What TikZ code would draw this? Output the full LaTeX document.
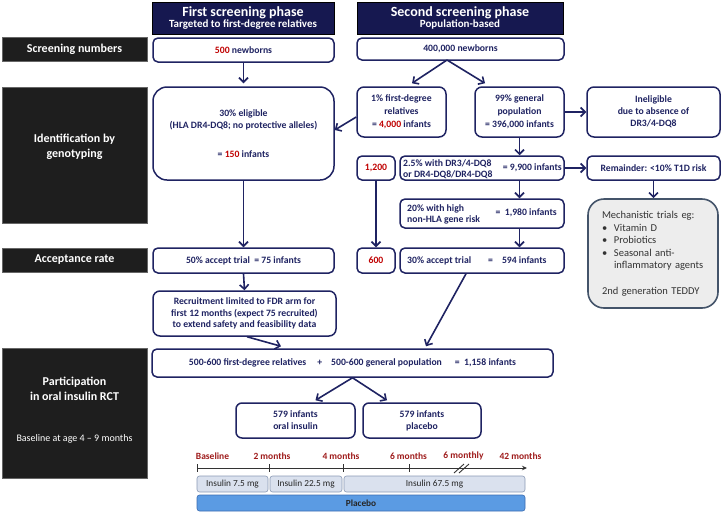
\documentclass[tikz,border=0pt]{standalone}
\usepackage{fontspec}
\setmainfont{Carlito}
\usetikzlibrary{arrows.meta,calc}
\definecolor{navy}{HTML}{1F2362}
\definecolor{hdr}{HTML}{161850}
\definecolor{redt}{HTML}{C00000}
\definecolor{blk}{HTML}{1E1E1E}
\definecolor{mechfill}{HTML}{EDEDED}
\definecolor{mechdraw}{HTML}{44546A}
\definecolor{mechtext}{HTML}{333333}
\definecolor{insfill}{HTML}{DAE1EE}
\definecolor{insdraw}{HTML}{8A9AB5}
\definecolor{plfill}{HTML}{5B9BE3}
\definecolor{pldraw}{HTML}{3B6CB0}
\definecolor{tlred}{HTML}{9E1B1B}
\definecolor{tlgray}{HTML}{333333}
\newcommand\bfnt{\fontsize{9.7}{12}\selectfont\bfseries}
\newcommand\rd[1]{\textcolor{redt}{#1}}
\begin{document}
\begin{tikzpicture}[x=1pt,y=-1pt,
  box/.style={draw=navy,line width=1.5pt,rounded corners=5pt,fill=white,inner sep=0pt,align=center,text=navy,font=\bfnt},
  btext/.style={inner sep=0pt,text=navy,font=\bfnt},
  hdrbox/.style={fill=hdr,draw=black,line width=0.6pt,inner sep=0pt,align=center,text=white,font=\bfseries},
  lbl/.style={fill=blk,draw=black!60,line width=0.4pt,inner sep=0pt,align=center,text=white,font=\fontsize{12}{14.5}\selectfont\bfseries},
  ltext/.style={inner sep=0pt,align=center,text=white},
  arr/.style={draw=navy,line width=1.6pt,-{Straight Barb[length=4.5pt,width=9pt,line width=1.6pt]}},
  insbox/.style={draw=insdraw,fill=insfill,line width=0.6pt,rounded corners=2.5pt,inner sep=0pt,text=black!85,font=\fontsize{9.3}{11}\selectfont},
  tllab/.style={inner sep=0pt,text=tlred,font=\fontsize{9.5}{11}\selectfont\bfseries},
  tl/.style={draw=tlgray,line width=0.9pt}
]
\useasboundingbox (0,0) rectangle (723,515);

% headers
\node[hdrbox,minimum width=182,minimum height=32] (h1) at (243,18)
  {{\fontsize{14}{16}\selectfont First screening phase}\\[-1pt]{\fontsize{11}{13}\selectfont Targeted to first-degree relatives}};
\node[hdrbox,minimum width=206,minimum height=32] (h2) at (460,18)
  {{\fontsize{14}{16}\selectfont Second screening phase}\\[-1pt]{\fontsize{11}{13}\selectfont Population-based}};

% left labels
\node[lbl,minimum width=145,minimum height=24] (l1) at (74.5,49) {Screening numbers};
\node[lbl,minimum width=145,minimum height=136] (l2) at (74.5,155) {};
\node[ltext,font=\fontsize{12}{14.5}\selectfont\bfseries] (l2t) at (74.5,147) {Identification by\\genotyping};
\node[lbl,minimum width=145,minimum height=24] (l3) at (74.5,260) {Acceptance rate};
\node[lbl,minimum width=145,minimum height=130] (l4) at (74.5,413) {};
\node[ltext,font=\fontsize{12}{14.5}\selectfont\bfseries] (l4t) at (74.5,389) {Participation\\in oral insulin RCT};
\node[ltext,font=\fontsize{10}{12}\selectfont] (l4b) at (74.5,439) {Baseline at age 4 -- 9 months};

% row 1
\node[box,minimum width=181,minimum height=24] (n500) at (243.5,50) {\rd{500} newborns};
\node[box,minimum width=207,minimum height=22] (n400) at (460.5,49) {400,000 newborns};

% row 2
\node[box,rounded corners=14pt,minimum width=181,minimum height=93] (elig) at (243.5,133.5)
  {30\% eligible\\(HLA DR4-DQ8; no protective alleles)\\[17pt]= \rd{150} infants};
\node[box,rounded corners=7pt,minimum width=89,minimum height=50,font=\fontsize{9.7}{13}\selectfont\bfseries] (fdr) at (401.5,112)
  {1\% first-degree\\relatives\\= \rd{4,000} infants};
\node[box,rounded corners=7pt,minimum width=89,minimum height=50,font=\fontsize{9.7}{13}\selectfont\bfseries] (gp) at (519.5,112)
  {99\% general\\population\\= 396,000 infants};
\node[box,rounded corners=7pt,minimum width=133,minimum height=50] (inel) at (653.5,112)
  {Ineligible\\due to absence of\\DR3/4-DQ8};

% row 3
\node[box,minimum width=38,minimum height=24] (n1200) at (376,168) {\rd{1,200}};
\node[box,minimum width=164,minimum height=24] (n25) at (482,168) {};
\node[btext,anchor=west,align=left,font=\fontsize{9.7}{11}\selectfont\bfseries] (n25a) at (403,169.5) {2.5\% with DR3/4-DQ8\\or DR4-DQ8/DR4-DQ8};
\node[btext,anchor=east] (n25b) at (562,168) {= 9,900 infants};
\node[box,minimum width=133,minimum height=24] (rem) at (653.5,168) {Remainder: <10\% T1D risk};

\node[box,minimum width=164,minimum height=29] (n20) at (482,213.5) {};
\node[btext,anchor=west,align=left,font=\fontsize{9.7}{11}\selectfont\bfseries] (n20a) at (407,214) {20\% with high\\non-HLA gene risk};
\node[btext,anchor=east] (n20b) at (557,213) {= \ 1,980 infants};

\node[draw=mechdraw,fill=mechfill,line width=1.6pt,rounded corners=16pt,minimum width=130,minimum height=109,
  text width=102,align=left,inner sep=0pt,text=mechtext,font=\fontsize{10.5}{12.6}\selectfont] (mech) at (653,253.5)
  {Mechanistic trials eg:\\
   \makebox[12pt][l]{\textbullet}Vitamin D\\
   \makebox[12pt][l]{\textbullet}Probiotics\\
   \makebox[12pt][l]{\textbullet}Seasonal anti-\\
   \hspace*{12pt}inflammatory agents\\[12.6pt]
   2nd generation TEDDY};

% row 4
\node[box,minimum width=181,minimum height=25] (acc50) at (243.5,260.5) {50\% accept trial \ = 75 infants};
\node[box,minimum width=38,minimum height=25] (n600) at (376,260.5) {\rd{600}};
\node[box,minimum width=164,minimum height=25] (acc30) at (482,260.5) {};
\node[btext,anchor=west] (acc30t) at (407,261) {30\% accept trial\hspace{17pt}=\hspace{9pt}594 infants};

\node[box,rounded corners=7pt,minimum width=183,minimum height=45,font=\fontsize{9.7}{11.5}\selectfont\bfseries] (recr) at (244.5,313.5)
  {Recruitment limited to FDR arm for\\first 12 months (expect 75 recruited)\\to extend safety and feasibility data};

% row 5
\node[box,minimum width=401,minimum height=28] (total) at (352.5,363)
  {500-600 first-degree relatives\hspace{11pt}+\hspace{9pt}500-600 general population\hspace{13pt}= \ 1,158 infants};
\node[box,rounded corners=6pt,minimum width=119,minimum height=35] (oral) at (295.5,420.5) {579 infants\\oral insulin};
\node[box,rounded corners=6pt,minimum width=118,minimum height=35] (plac) at (422,420.5) {579 infants\\placebo};

% connectors
\coordinate (v400) at (447,60);
\draw[arr] (n500.south) -- ([yshift=3]elig.north);
\draw[arr] (v400) -- ([xshift=10.5,yshift=3]fdr.north);
\draw[arr] (v400) -- ([xshift=-34.5,yshift=3]gp.north);
\draw[arr] ([yshift=-5]fdr.west) -- ([yshift=3.5]elig.east);
\draw[arr] (gp.east) -- (inel.west);
\draw[arr] (gp.south) -- (gp.south |- n25.north);
\draw[arr] (n25.east) -- (rem.west);
\draw[arr] (rem.south) -- (rem.south |- mech.north);
\draw[arr] (gp.south |- n25.south) -- (gp.south |- n20.north);
\draw[arr] (gp.south |- n20.south) -- (gp.south |- acc30.north);
\draw[arr] (n1200.south) -- (n600.north);
\draw[arr] (elig.south) -- (acc50.north);
\draw[arr] (acc50.south) -- (recr.north);
\draw[arr] ([xshift=2.5]recr.south) -- ([xshift=-71.5,yshift=2]total.north);
\draw[arr] ([xshift=-16]acc30.south) -- ([xshift=73.5,yshift=2]total.north);
\draw[arr] (total.south) -- ([xshift=20,yshift=2]oral.north);
\draw[arr] (total.south) -- ([xshift=-35,yshift=2]plac.north);

% timeline
\coordinate (t0) at (197,468);
\coordinate (t1) at (527,468);
\draw[tl,-{Stealth[length=5pt,width=4.5pt]}] (t0) -- (t1);
\draw[tl] (197,464) -- (197,472);
\draw[tl] (269,464) -- (269,472);
\draw[tl] (343,464) -- (343,472);
\draw[tl] (409,464) -- (409,472);
\draw[tl] (454,473) -- (464,464);
\draw[tl] (459,473) -- (469,464);
\node[tllab] (tb) at (212.5,456) {Baseline};
\node[tllab] (t2) at (272,456) {2 months};
\node[tllab] (t4) at (341,456) {4 months};
\node[tllab] (t6) at (408.5,456) {6 months};
\node[tllab] (t6m) at (463.5,456) {6 monthly};
\node[tllab] (t42) at (520.5,456) {42 months};

\node[insbox,minimum width=71,minimum height=16] (i1) at (232.5,484) {Insulin 7.5 mg};
\node[insbox,minimum width=72,minimum height=16] (i2) at (306,484) {Insulin 22.5 mg};
\node[insbox,minimum width=181,minimum height=16] (i3) at (434.5,484) {Insulin 67.5 mg};
\node[draw=pldraw,fill=plfill,line width=0.6pt,rounded corners=2.5pt,inner sep=0pt,minimum width=328,minimum height=16,
  text=black!85,font=\fontsize{9.3}{11}\selectfont\bfseries] (pbar) at (361,503) {Placebo};
\end{tikzpicture}
\end{document}
